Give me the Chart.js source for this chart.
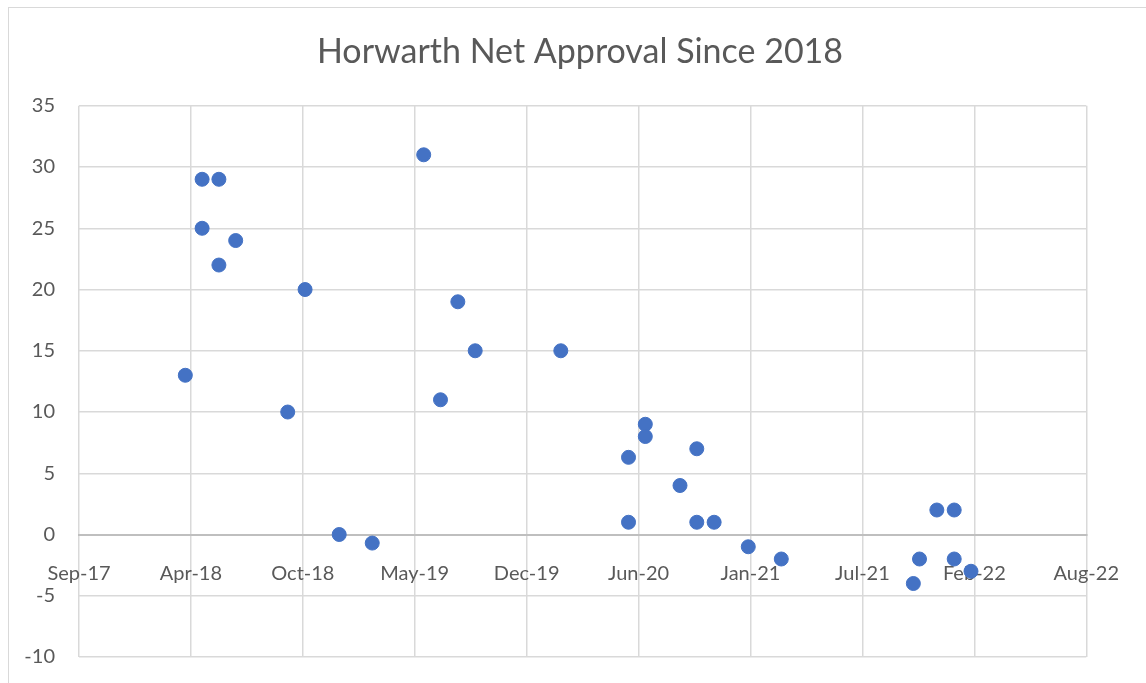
<!DOCTYPE html>
<html>
<head>
<meta charset="utf-8">
<script src="https://cdn.jsdelivr.net/npm/chart.js@4"></script>
<style>
  body { margin: 0; background: #fff; overflow: hidden; }
  #stat1 { position: absolute; left: 0; top: 0; }
  #frame { position: absolute; left: 8px; top: 7px; width: 1200px; height: 700px;
           border: 1px solid #d9d9d9; pointer-events: none; }
</style>
</head>
<body>
<canvas id="stat1" width="1146" height="683"></canvas>
<div id="frame"></div>
<script>
// poll dates and Horwarth net approval
var pollDates = ['2018-03-31','2018-04-30','2018-04-30','2018-05-30','2018-05-30','2018-06-29',
                 '2018-09-30','2018-10-31','2018-12-31','2019-02-28','2019-05-31','2019-06-30',
                 '2019-07-31','2019-08-31','2020-01-31','2020-05-31','2020-05-31','2020-06-30',
                 '2020-06-30','2020-08-31','2020-09-30','2020-09-30','2020-10-31','2020-12-31',
                 '2021-02-28','2021-10-22','2021-11-02','2021-12-03','2022-01-03','2022-01-03',
                 '2022-02-02'];
var netApproval = [13,29,25,29,22,24,
                   10,20,0,-0.7,31,11,
                   19,15,15,6.3,1,9,
                   8,4,7,1,1,-1,
                   -2,-4,-2,2,2,-2,
                   -3];
var monthNames = ['Jan','Feb','Mar','Apr','May','Jun','Jul','Aug','Sep','Oct','Nov','Dec'];

// excel style day serials
function toSerial(s) {
    var p = s.split('-');
    return Date.UTC(+p[0], +p[1] - 1, +p[2]) / 86400000 + 25569;
}
function serialLabel(v) {
    var d = new Date((v - 25569) * 86400000);
    return monthNames[d.getUTCMonth()] + '-' + String(d.getUTCFullYear()).slice(2);
}

var points = pollDates.map(function (d, i) { return { x: toSerial(d), y: netApproval[i] }; });

var ctx = document.getElementById("stat1").getContext("2d");
var myChart = new Chart(ctx, {
    type: "scatter",
    data: {
        datasets: [{
            label: 'Net approval',
            data: points,
            backgroundColor: '#4472c4',
            borderColor: '#4472c4',
            pointRadius: 7,
            pointHoverRadius: 7
        }]
    },
    options: {
        responsive: false,
        animation: false,
        devicePixelRatio: 1,
        layout: { padding: { left: 14, right: 0, top: 0, bottom: 26 } },
        plugins: {
            legend: { display: false },
            tooltip: { enabled: false },
            title: {
                display: true,
                text: 'Horwarth Net Approval Since 2018',
                color: '#595959',
                font: { family: 'Lato', size: 34, weight: 'normal' },
                padding: { top: 32, bottom: 33 }
            }
        },
        scales: {
            x: {
                type: 'linear',
                position: { y: 0 },
                min: 43000,
                max: 44800,
                ticks: {
                    stepSize: 200,
                    color: '#595959',
                    font: { family: 'Lato', size: 20 },
                    padding: 27,
                    maxRotation: 0,
                    autoSkip: false,
                    callback: function (v) { return serialLabel(v); }
                },
                grid: { color: '#d9d9d9', lineWidth: 1.5, drawTicks: false },
                border: { display: true, color: '#bfbfbf', width: 2 },
                afterFit: function (scale) { scale.paddingTop = 0; scale.paddingBottom = 0; }
            },
            y: {
                min: -10,
                max: 35,
                ticks: {
                    stepSize: 5,
                    color: '#595959',
                    font: { family: 'Lato', size: 20 },
                    padding: 24
                },
                grid: { color: '#d9d9d9', lineWidth: 1.5, drawTicks: false },
                border: { display: false },
                afterFit: function (scale) { scale.width = 65; scale.paddingBottom = 0; }
            },
            // empty right margin so the title centres like the original
            yRight: {
                position: 'right',
                display: true,
                ticks: { display: false },
                grid: { display: false },
                border: { display: false },
                afterFit: function (scale) { scale.width = 58; }
            }
        }
    }
});
</script>
</body>
</html>
